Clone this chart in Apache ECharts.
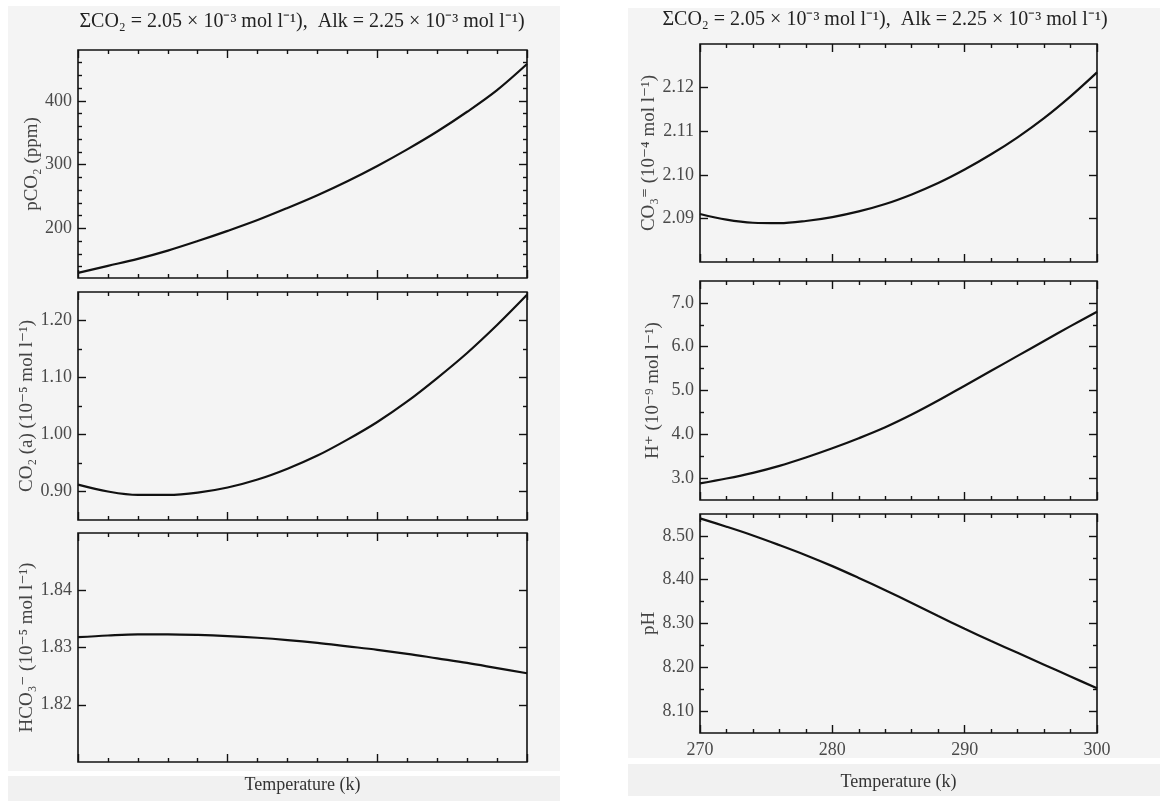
<!DOCTYPE html>
<html><head><meta charset="utf-8">
<script src="https://cdn.jsdelivr.net/npm/echarts@6/dist/echarts.min.js"></script>
<style>html,body{margin:0;padding:0;background:#fff}#c{width:1171px;height:801px}</style>
</head><body><div id="c"></div>
<script>
// ---------------- data ----------------
const temps = [270,272,274,276,278,280,282,284,286,288,290,292,294,296,298,300];
const pco2  = [130,141,152,165,180,196,213,232,252,274,298,324,352,383,417,458];
const co2aq = [0.912,0.900,0.894,0.894,0.898,0.907,0.921,0.940,0.963,0.991,1.022,1.058,1.099,1.143,1.192,1.245];
const hco3  = [1.8318,1.8321,1.8323,1.8323,1.8322,1.8320,1.8317,1.8313,1.8308,1.8302,1.8296,1.8289,1.8281,1.8273,1.8264,1.8255];
const co3   = [2.0910,2.0897,2.0890,2.0889,2.0894,2.0903,2.0916,2.0933,2.0955,2.0981,2.1012,2.1047,2.1086,2.1130,2.1180,2.1235];
const hplus = [2.88,2.99,3.12,3.28,3.47,3.68,3.91,4.16,4.45,4.77,5.11,5.45,5.79,6.13,6.47,6.80];
const ph    = [8.540,8.521,8.501,8.479,8.456,8.431,8.404,8.376,8.347,8.317,8.288,8.260,8.233,8.206,8.179,8.152];

// tick values
const xMajor = [270,280,290,300];
const xMinor = [272,274,276,278,282,284,286,288,292,294,296,298];
const pco2Major = [200,300,400];
const pco2Minor = [140,160,180,220,240,260,280,320,340,360,380,420,440,460];
const co2aqMajor = [0.90,1.00,1.10,1.20];
const co2aqMinor = [0.95,1.05,1.15];
const hco3Major = [1.82,1.83,1.84];
const hco3Minor = [];
const co3Major = [2.09,2.10,2.11,2.12];
const co3Minor = [];
const hplusMajor = [3.0,4.0,5.0,6.0,7.0];
const hplusMinor = [3.5,4.5,5.5,6.5];
const phMajor = [8.10,8.20,8.30,8.40,8.50];
const phMinor = [8.15,8.25,8.35,8.45];

const titleText = 'ΣCO₂ = 2.05 × 10⁻³ mol l⁻¹),  Alk = 2.25 × 10⁻³ mol l⁻¹)';
const xName = 'Temperature (k)';

// ---------------- layout ----------------
const FONT = '"Liberation Serif", "DejaVu Serif", serif';
const LBL = '#4a4a4a';
const panels = [
  {grid:{left:78,top:50,width:449,height:228},  data:pco2,  min:122,  max:480,  major:pco2Major,  minor:pco2Minor,  dec:0, name:'pCO₂ (ppm)', gap:30, xl:false},
  {grid:{left:78,top:292,width:449,height:228}, data:co2aq, min:0.85, max:1.25, major:co2aqMajor, minor:co2aqMinor, dec:2, name:'CO₂ (a) (10⁻⁵ mol l⁻¹)', gap:36, xl:false},
  {grid:{left:78,top:533,width:449,height:229}, data:hco3,  min:1.81, max:1.85, major:hco3Major,  minor:hco3Minor,  dec:2, name:'HCO₃⁻ (10⁻⁵ mol l⁻¹)', gap:38, xl:false, xn:true, xgap:14},
  {grid:{left:700,top:44,width:397,height:218}, data:co3,   min:2.08, max:2.13, major:co3Major,   minor:co3Minor,   dec:2, name:'CO₃⁼ (10⁻⁴ mol l⁻¹)', gap:37, xl:false},
  {grid:{left:700,top:281,width:397,height:219},data:hplus, min:2.5,  max:7.5,  major:hplusMajor, minor:hplusMinor, dec:1, name:'H⁺ (10⁻⁹ mol l⁻¹)', gap:37, xl:false},
  {grid:{left:700,top:514,width:397,height:219},data:ph,    min:8.05, max:8.55, major:phMajor,    minor:phMinor,    dec:2, name:'pH', gap:34, xl:true, xn:true, xgap:40}
];

const grids=[], xAxes=[], yAxes=[], series=[];
const tickStyle = {color:'#111', width:1.4};
panels.forEach((p,i)=>{
  grids.push(Object.assign({show:true, borderColor:'#111', borderWidth:1.6, backgroundColor:'transparent', containLabel:false}, p.grid));
  const baseX = {gridIndex:i, type:'value', min:270, max:300, axisLine:{show:false}, splitLine:{show:false}};
  xAxes.push(Object.assign({}, baseX, {position:'bottom',
    axisTick:{show:true, inside:true, length:8, customValues:xMajor, lineStyle:tickStyle},
    axisLabel:{show:p.xl, customValues:xMajor, color:LBL, fontFamily:FONT, fontSize:18, margin:8},
    name:p.xn?xName:'', nameLocation:'middle', nameGap:p.xgap||20, nameTextStyle:{color:'#333', fontFamily:FONT, fontSize:18}}));
  xAxes.push(Object.assign({}, baseX, {position:'bottom',
    axisTick:{show:true, inside:true, length:4, customValues:xMinor, lineStyle:tickStyle}, axisLabel:{show:false, customValues:xMinor}}));
  xAxes.push(Object.assign({}, baseX, {position:'top',
    axisTick:{show:true, inside:true, length:8, customValues:xMajor, lineStyle:tickStyle}, axisLabel:{show:false, customValues:xMajor}}));
  xAxes.push(Object.assign({}, baseX, {position:'top',
    axisTick:{show:true, inside:true, length:4, customValues:xMinor, lineStyle:tickStyle}, axisLabel:{show:false, customValues:xMinor}}));
  const baseY = {gridIndex:i, type:'value', min:p.min, max:p.max, axisLine:{show:false}, splitLine:{show:false}};
  yAxes.push(Object.assign({}, baseY, {position:'left',
    axisTick:{show:true, inside:true, length:8, customValues:p.major, lineStyle:tickStyle},
    axisLabel:{show:true, customValues:p.major, color:LBL, fontFamily:FONT, fontSize:18, margin:6, formatter:v=>Number(v).toFixed(p.dec)},
    name:p.name, nameLocation:'middle', nameGap:p.gap, nameRotate:90, nameTextStyle:{color:'#444', fontFamily:FONT, fontSize:19}}));
  yAxes.push(Object.assign({}, baseY, {position:'left',
    axisTick:{show:p.minor.length>0, inside:true, length:4, customValues:p.minor, lineStyle:tickStyle}, axisLabel:{show:false, customValues:p.minor}}));
  yAxes.push(Object.assign({}, baseY, {position:'right',
    axisTick:{show:true, inside:true, length:8, customValues:p.major, lineStyle:tickStyle}, axisLabel:{show:false, customValues:p.major}}));
  yAxes.push(Object.assign({}, baseY, {position:'right',
    axisTick:{show:p.minor.length>0, inside:true, length:4, customValues:p.minor, lineStyle:tickStyle}, axisLabel:{show:false, customValues:p.minor}}));
  series.push({type:'line', xAxisIndex:4*i, yAxisIndex:4*i, data:temps.map((t,k)=>[t,p.data[k]]),
    smooth:0.35, showSymbol:false, symbol:'none', lineStyle:{color:'#111', width:2.2}, clip:true, silent:true});
});

const chart = echarts.init(document.getElementById('c'), null, {renderer:'canvas'});
chart.setOption({
  animation:false,
  backgroundColor:'#fff',
  graphic:[
    {type:'rect', z:-100, shape:{x:8,y:6,width:552,height:765}, style:{fill:'#f4f4f4'}},
    {type:'rect', z:-100, shape:{x:8,y:776,width:552,height:25}, style:{fill:'#f1f1f1'}},
    {type:'rect', z:-100, shape:{x:628,y:8,width:532,height:750}, style:{fill:'#f4f4f4'}},
    {type:'rect', z:-100, shape:{x:628,y:764,width:532,height:32}, style:{fill:'#f1f1f1'}},
    {type:'text', x:302, y:12, style:{text:titleText, fill:'#222', font:'20px "Liberation Serif", serif', textAlign:'center'}},
    {type:'text', x:885, y:10, style:{text:titleText, fill:'#222', font:'20px "Liberation Serif", serif', textAlign:'center'}}
  ],
  grid:grids, xAxis:xAxes, yAxis:yAxes, series:series
});
</script></body></html>
